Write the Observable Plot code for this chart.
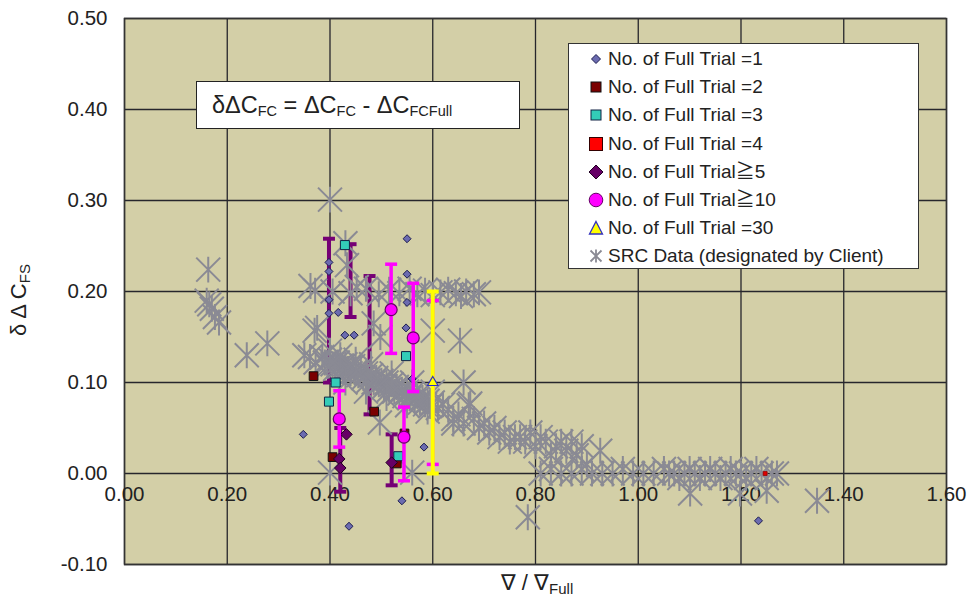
<!DOCTYPE html>
<html><head><meta charset="utf-8">
<script src="https://cdn.jsdelivr.net/npm/d3@7"></script>
<script src="https://cdn.jsdelivr.net/npm/@observablehq/plot@0.6"></script>
<style>
body{margin:0;background:#fff;}
#wrap{position:relative;width:969px;height:602px;font-family:"Liberation Sans",Arial,sans-serif;color:#222;}
#formula{position:absolute;left:196px;top:81px;width:307px;height:46px;background:#fff;border:1.5px solid #222;font-size:23.5px;line-height:46px;padding-left:15px;box-sizing:content-box;white-space:nowrap;}
#formula sub{font-size:14.5px;vertical-align:-3px;}
#legend{position:absolute;left:568px;top:43px;width:349px;height:224px;background:#fff;border:1.5px solid #333;font-family:"Liberation Sans","Noto Sans CJK JP",sans-serif;font-size:19px;}
.row{position:absolute;left:0;height:28px;line-height:28px;white-space:nowrap;}
.row svg{position:absolute;left:19px;top:6px;}
.row span{position:absolute;left:39px;}
#ytitle{position:absolute;left:19px;top:300px;transform:translate(-50%,-50%) rotate(-90deg);font-size:22px;white-space:nowrap;}
#ytitle sub, #xtitle sub{font-size:15px;vertical-align:-4px;}
#xtitle{position:absolute;left:537px;top:583px;transform:translate(-50%,-50%);font-size:22px;white-space:nowrap;}
</style></head><body><div id="wrap"></div>
<script>
// ---- tick labels ----
const xTicks = [0, 0.2, 0.4, 0.6, 0.8, 1.0, 1.2, 1.4, 1.6];
const yTicks = [-0.1, 0, 0.1, 0.2, 0.3, 0.4, 0.5];

// ---- series (x = ∇/∇Full, y = δΔC) ----
const trial1 = [[0.348,0.043],[0.398,0.232],[0.398,0.222],[0.550,0.258],[0.550,0.219],[0.398,0.191],[0.416,0.177],[0.398,0.176],[0.429,0.152],[0.447,0.152],[0.548,0.160],[0.550,0.188],[0.560,0.104],[0.583,0.029],[0.540,-0.030],[0.437,-0.058],[1.234,-0.052]];
const trial2 = [[0.368,0.107],[0.405,0.018],[0.486,0.068],[0.530,0.011],[0.545,0.044]];
const trial3 = [[0.429,0.251],[0.548,0.129],[0.411,0.100],[0.398,0.079],[0.533,0.019]];
const trial4 = [[1.247,0.000]];
const trial5 = [[0.432,0.043],[0.418,0.016],[0.420,0.006],[0.520,0.012]];
const trial5Bars = [[0.398,0.100,0.258],[0.440,0.172,0.252],[0.477,0.065,0.217],[0.420,-0.020,0.050],[0.520,-0.013,0.043]];
const trial10 = [[0.519,0.180],[0.562,0.149],[0.418,0.060],[0.544,0.040]];
const trial10Bars = [[0.519,0.132,0.230],[0.562,0.090,0.209],[0.418,0.029,0.091],[0.544,-0.008,0.073],[0.600,0.010,0.190]];
const trial30 = [[0.600,0.100]];
const trial30Bars = [[0.600,0.000,0.200]];
const src = [
 [0.163,0.224],[0.160,0.190],[0.165,0.186],[0.170,0.181],[0.176,0.172],[0.184,0.166],[0.238,0.130],[0.278,0.143],
 [0.400,0.301],[0.371,0.201],[0.362,0.206],[0.430,0.253],[0.433,0.229],[0.452,0.205],[0.375,0.160],[0.361,0.128],
 [0.370,0.157],[0.485,0.165],[0.498,0.150],[0.600,0.157],[0.653,0.146],[0.660,0.100],[0.350,0.130],[0.372,0.122],
 [0.405,0.200],[0.440,0.198],[0.470,0.203],[0.495,0.197],[0.515,0.202],[0.535,0.198],[0.555,0.203],[0.570,0.197],
 [0.585,0.201],[0.600,0.196],[0.615,0.199],[0.630,0.202],[0.645,0.198],[0.655,0.195],[0.665,0.200],[0.680,0.197],[0.690,0.199],
 [0.385,0.128],[0.390,0.122],[0.395,0.118],[0.400,0.125],[0.405,0.120],[0.410,0.115],[0.415,0.122],[0.420,0.118],
 [0.425,0.112],[0.430,0.120],[0.435,0.115],[0.440,0.110],[0.445,0.118],[0.450,0.112],[0.455,0.108],[0.460,0.115],
 [0.465,0.105],[0.470,0.110],[0.475,0.102],[0.480,0.108],[0.485,0.100],[0.490,0.105],[0.495,0.098],[0.500,0.102],
 [0.505,0.095],[0.510,0.100],[0.515,0.092],[0.520,0.098],[0.525,0.090],[0.530,0.095],[0.535,0.088],[0.540,0.092],
 [0.545,0.085],[0.550,0.090],[0.555,0.083],[0.560,0.088],[0.565,0.080],[0.570,0.085],[0.575,0.078],[0.580,0.083],
 [0.585,0.076],[0.590,0.080],[0.595,0.074],[0.600,0.078],[0.610,0.072],[0.620,0.076],
 [0.400,0.135],[0.420,0.130],[0.450,0.125],[0.480,0.120],[0.520,0.110],[0.560,0.100],[0.600,0.090],
 [0.430,0.100],[0.470,0.090],[0.510,0.083],[0.550,0.075],[0.590,0.068],
 [0.497,0.056],[0.400,0.001],[0.560,0.001],[0.640,0.055],[0.673,0.077],
 [0.630,0.070],[0.640,0.060],[0.650,0.065],[0.660,0.055],[0.670,0.075],[0.680,0.060],[0.690,0.050],[0.700,0.055],
 [0.710,0.045],[0.720,0.050],[0.730,0.040],[0.740,0.045],[0.750,0.035],[0.760,0.040],[0.770,0.040],[0.780,0.035],
 [0.790,0.045],[0.800,0.030],[0.810,0.040],[0.820,0.035],[0.830,0.020],[0.840,0.030],[0.850,0.035],[0.860,0.025],
 [0.870,0.035],[0.880,0.020],[0.890,0.030],[0.900,0.010],[0.926,0.025],
 [0.810,0.000],[0.830,0.005],[0.850,0.000],[0.870,0.000],[0.890,0.005],[0.910,0.000],[0.930,0.000],[0.950,0.000],
 [0.970,0.005],[0.990,0.000],[1.010,0.000],[1.030,0.000],[1.050,0.005],[1.060,0.000],[1.070,0.000],[1.080,-0.005],
 [1.090,0.000],[1.100,0.005],[1.110,0.000],[1.120,-0.005],[1.130,0.000],[1.140,0.005],[1.150,0.000],[1.160,-0.005],
 [1.170,0.000],[1.180,0.005],[1.190,0.000],[1.200,0.000],[1.210,-0.005],[1.220,0.000],[1.230,0.005],[1.240,0.000],
 [1.250,-0.005],[1.260,0.000],[1.270,0.000],
 [1.101,-0.022],[1.198,-0.022],[1.250,-0.019],[1.348,-0.030],[0.785,-0.048]
];

// ---- legend labels ----
const legendLabels = ["No. of Full Trial =1","No. of Full Trial =2","No. of Full Trial =3","No. of Full Trial =4","No. of Full Trial\u22675","No. of Full Trial\u226710","No. of Full Trial =30","SRC Data (designated by Client)"];

const pts = a => a.map(([x,y]) => ({x,y}));
const bars = a => a.map(([x,lo,hi]) => ({x,lo,hi}));

const asterisk = {draw(ctx, size){const r=Math.sqrt(size/Math.PI);ctx.moveTo(0,-r*1.08);ctx.lineTo(0,r*1.08);ctx.moveTo(-r,-r);ctx.lineTo(r,r);ctx.moveTo(-r,r);ctx.lineTo(r,-r);}};
const cap = {draw(ctx, size){const r=Math.sqrt(size/Math.PI);ctx.moveTo(-r,0);ctx.lineTo(r,0);}};

function errBars(data, color, w, capR){
  const d = bars(data);
  return [
    Plot.ruleX(d, {x:"x", y1:"lo", y2:"hi", stroke:color, strokeWidth:w}),
    Plot.dot(d, {x:"x", y:"hi", symbol:cap, r:capR, stroke:color, strokeWidth:w, fill:"none"}),
    Plot.dot(d, {x:"x", y:"lo", symbol:cap, r:capR, stroke:color, strokeWidth:w, fill:"none"})
  ];
}

const chart = Plot.plot({
  width:969, height:602,
  marginLeft:124, marginRight:23, marginTop:18, marginBottom:38,
  x:{domain:[0,1.6], axis:null},
  y:{domain:[-0.1,0.5], label:null},
  style:{fontFamily:"'Liberation Sans', Arial, sans-serif", color:"#222", background:"transparent"},
  marks:[
    Plot.frame({fill:"#d3cfa7", stroke:null}),
    Plot.ruleX(xTicks, {stroke:"#26262c", strokeWidth:1.3}),
    Plot.ruleY(yTicks, {stroke:"#26262c", strokeWidth:1.3}),
    Plot.frame({stroke:"#333", strokeWidth:1.5}),
    Plot.axisY({ticks:yTicks, tickSize:0, tickPadding:17, tickFormat:d=>d.toFixed(2), fontSize:20.5, label:null}),
    Plot.text(xTicks, {x:d=>d, y:0, dy:21, text:d=>d.toFixed(2), fontSize:20.5, fill:"#222"}),
    ...errBars(trial5Bars, "#750075", 4, 6),
    Plot.dot(pts(src), {x:"x", y:"y", symbol:asterisk, r:12, stroke:"#8a8a94", strokeWidth:2, fill:"none"}),
    Plot.dot(pts(trial1), {x:"x", y:"y", symbol:"diamond2", r:3.6, fill:"#6b6bb0", stroke:"#1c1c50", strokeWidth:1}),
    Plot.dot(pts(trial2), {x:"x", y:"y", symbol:"square", r:4.9, fill:"#7a0000", stroke:"#111", strokeWidth:1}),
    Plot.dot(pts(trial3), {x:"x", y:"y", symbol:"square", r:5.1, fill:"#33ccb8", stroke:"#124", strokeWidth:1}),
    Plot.dot(pts(trial4), {x:"x", y:"y", symbol:"square", r:2.2, fill:"#e00000", stroke:"#900", strokeWidth:0.8}),
    Plot.dot(pts(trial5), {x:"x", y:"y", symbol:"diamond2", r:5.2, fill:"#660066", stroke:"#220022", strokeWidth:1}),
    ...errBars(trial10Bars, "#ff00ff", 3.5, 6),
    Plot.dot(pts(trial10), {x:"x", y:"y", r:6, fill:"#ff00ff", stroke:"#660066", strokeWidth:1.2}),
    ...errBars(trial30Bars, "#ffff00", 4, 6),
    Plot.dot(pts(trial30), {x:"x", y:"y", symbol:"triangle2", r:5, fill:"#ffff00", stroke:"#3030c0", strokeWidth:1.2})
  ]
});

const wrap = document.getElementById("wrap");
wrap.appendChild(chart);
chart.style.position = "absolute"; chart.style.left = "0"; chart.style.top = "0";

// formula box
const f = document.createElement("div");
f.id = "formula";
f.innerHTML = "δΔC<sub>FC</sub> = ΔC<sub>FC</sub> - ΔC<sub>FCFull</sub>";
wrap.appendChild(f);

// legend
const markers = [
  '<svg width="16" height="16"><path d="M8,3.5L12.5,8L8,12.5L3.5,8Z" fill="#6b6bb0" stroke="#1c1c50"/></svg>',
  '<svg width="16" height="16"><rect x="3" y="3" width="10" height="10" fill="#7a0000" stroke="#111"/></svg>',
  '<svg width="16" height="16"><rect x="3" y="3" width="10" height="10" fill="#33ccb8" stroke="#124"/></svg>',
  '<svg width="16" height="16"><rect x="1.5" y="1.5" width="13" height="13" fill="#ff0000" stroke="#300"/></svg>',
  '<svg width="16" height="16"><path d="M8,1L15,8L8,15L1,8Z" fill="#660066" stroke="#220022"/></svg>',
  '<svg width="16" height="16"><circle cx="8" cy="8" r="6.8" fill="#ff00ff" stroke="#660066"/></svg>',
  '<svg width="16" height="16"><path d="M8,1.5L14.5,14L1.5,14Z" fill="#ffff00" stroke="#3030c0" stroke-width="1.3"/></svg>',
  '<svg width="16" height="16"><path d="M8,1.5V14.5M2.5,2.5L13.5,13.5M2.5,13.5L13.5,2.5" stroke="#8a8a94" stroke-width="1.8" fill="none"/></svg>'
];
const lg = document.createElement("div");
lg.id = "legend";
legendLabels.forEach((t,i) => {
  const r = document.createElement("div");
  r.className = "row";
  r.style.top = (1 + i*28.2) + "px";
  r.innerHTML = markers[i] + "<span>" + t + "</span>";
  lg.appendChild(r);
});
wrap.appendChild(lg);

// axis titles
const yt = document.createElement("div");
yt.id = "ytitle";
yt.innerHTML = "δ Δ C<sub>FS</sub>";
wrap.appendChild(yt);
const xt = document.createElement("div");
xt.id = "xtitle";
xt.innerHTML = "∇ / ∇<sub>Full</sub>";
wrap.appendChild(xt);
</script>
</body></html>
